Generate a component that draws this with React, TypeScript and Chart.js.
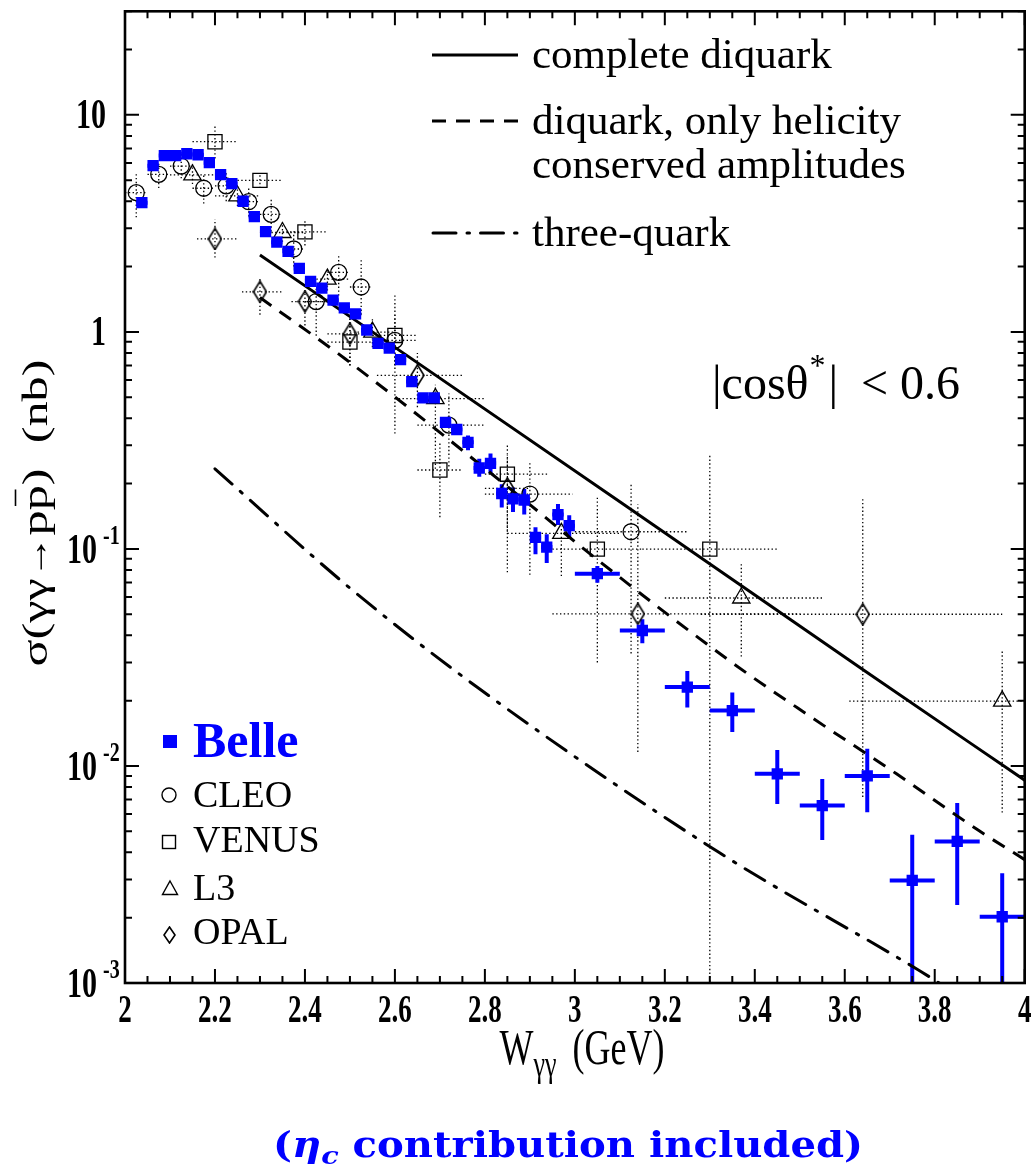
import React, { useEffect, useRef } from 'react';
import { Chart, registerables } from 'chart.js';

Chart.register(...registerables);

const W = 1036;
const H = 1175;
const SERIF = '"Liberation Serif", "Times New Roman", serif';
const CAPFONT = '"DejaVu Serif", serif';
const BLUE = '#0000ff';

// ---------------- axes ----------------
const xMin = 2;
const xMax = 4;
const yMin = 0.001;
const yMax = 30;
const xTickValues = [2, 2.2, 2.4, 2.6, 2.8, 3, 3.2, 3.4, 3.6, 3.8, 4];
const xTickLabels = ['2', '2.2', '2.4', '2.6', '2.8', '3', '3.2', '3.4', '3.6', '3.8', '4'];
const yTickValues = [0.001, 0.01, 0.1, 1, 10];
const yTickBase = ['10', '10', '10', '1', '10'];
const yTickExp = ['-3', '-2', '-1', '', ''];

// ---------------- Belle ----------------
const belleX = [2.0375, 2.0625, 2.0875, 2.1125, 2.1375, 2.1625, 2.1875, 2.2125, 2.2375, 2.2625,
  2.2875, 2.3125, 2.3375, 2.3625, 2.3875, 2.4125, 2.4375, 2.4625, 2.4875, 2.5125,
  2.5375, 2.5625, 2.5875, 2.6125, 2.6375, 2.6625, 2.6875, 2.7125, 2.7375, 2.7625,
  2.7875, 2.8125, 2.8375, 2.8625, 2.8875, 2.9125, 2.9375, 2.9625, 2.9875,
  3.05, 3.15, 3.25, 3.35, 3.45, 3.55, 3.65, 3.75, 3.85, 3.95];
const belleY = [3.94, 5.83, 6.49, 6.49, 6.62, 6.55, 6.02, 5.30, 4.82, 4.0,
  3.40, 2.90, 2.59, 2.35, 1.96, 1.71, 1.59, 1.40, 1.29, 1.21,
  1.02, 0.885, 0.842, 0.745, 0.59, 0.497, 0.497, 0.383, 0.355, 0.31,
  0.236, 0.248, 0.18, 0.17, 0.168, 0.113, 0.102, 0.144, 0.128,
  0.0769, 0.0421, 0.0231, 0.018, 0.0092, 0.00657, 0.009, 0.00297, 0.00449, 0.00202];
const belleXErr = [0.0125, 0.0125, 0.0125, 0.0125, 0.0125, 0.0125, 0.0125, 0.0125, 0.0125, 0.0125,
  0.0125, 0.0125, 0.0125, 0.0125, 0.0125, 0.0125, 0.0125, 0.0125, 0.0125, 0.0125,
  0.0125, 0.0125, 0.0125, 0.0125, 0.0125, 0.0125, 0.0125, 0.0125, 0.0125, 0.0125,
  0.0125, 0.0125, 0.0125, 0.0125, 0.0125, 0.0125, 0.0125, 0.0125, 0.0125,
  0.05, 0.05, 0.05, 0.05, 0.05, 0.05, 0.05, 0.05, 0.05, 0.05];
const belleYLo = [null, null, null, null, null, null, null, null, null, null,
  null, null, null, null, null, null, null, null, null, null,
  null, null, null, null, null, null, null, null, null, 0.285,
  0.215, 0.223, 0.155, 0.148, 0.144, 0.0945, 0.0862, 0.129, 0.111,
  0.0699, 0.0368, 0.0186, 0.01435, 0.00668, 0.00456, 0.00612, 0.0009, 0.00229, 0.0009];
const belleYHi = [null, null, null, null, null, null, null, null, null, null,
  null, null, null, null, null, null, null, null, null, null,
  null, null, null, null, null, null, null, null, null, 0.333,
  0.26, 0.2755, 0.1985, 0.192, 0.189, 0.126, 0.117, 0.161, 0.143,
  0.0834, 0.0474, 0.0274, 0.0218, 0.01185, 0.0087, 0.012, 0.00482, 0.00675, 0.0032];

// ---------------- CLEO ----------------
const cleoX = [2.025, 2.075, 2.125, 2.175, 2.225, 2.275, 2.325, 2.375, 2.425, 2.475, 2.525, 2.6, 2.72, 2.9, 3.125];
const cleoY = [4.38, 5.32, 5.81, 4.59, 4.71, 3.98, 3.48, 2.41, 1.38, 1.88, 1.61, 0.914, 0.372, 0.179, 0.12];
const cleoXLo = [2.0, 2.05, 2.1, 2.15, 2.2, 2.25, 2.3, 2.35, 2.4, 2.45, 2.5, 2.55, 2.65, 2.8, 3.0];
const cleoXHi = [2.05, 2.1, 2.15, 2.2, 2.25, 2.3, 2.35, 2.4, 2.45, 2.5, 2.55, 2.65, 2.8, 2.995, 3.25];
const cleoYLo = [3.37, 4.6, 5.1, 3.9, 4.0, 3.4, 2.9, 2.0, 0.96, 1.47, 1.2, 0.7, 0.24, 0.076, 0.033];
const cleoYHi = [5.32, 6.1, 6.6, 5.3, 5.5, 4.6, 4.1, 2.9, 1.6, 2.28, 2.14, 1.2, 0.52, 0.25, 0.2];

// ---------------- VENUS ----------------
const venusX = [2.2, 2.3, 2.4, 2.5, 2.6, 2.7, 2.85, 3.05, 3.3];
const venusY = [7.52, 4.99, 2.89, 0.898, 0.963, 0.231, 0.221, 0.0998, 0.0998];
const venusXLo = [2.15, 2.25, 2.35, 2.45, 2.55, 2.65, 2.8, 2.95, 3.15];
const venusXHi = [2.25, 2.35, 2.45, 2.55, 2.65, 2.75, 2.94, 3.15, 3.45];
const venusYLo = [6.3, 4.6, 2.5, 0.7, 0.34, 0.14, 0.078, 0.03, 0.0009];
const venusYHi = [9.0, 5.4, 3.3, 1.2, 1.49, 0.31, 0.3, 0.172, 0.27];

// ---------------- L3 ----------------
const l3X = [2.15, 2.25, 2.35, 2.45, 2.55, 2.69, 2.97, 3.37, 3.95];
const l3Y = [5.29, 4.23, 2.87, 1.75, 0.997, 0.493, 0.118, 0.0594, 0.0199];
const l3XLo = [2.1, 2.2, 2.3, 2.4, 2.5, 2.6, 2.85, 3.2, 3.61];
const l3XHi = [2.2, 2.3, 2.4, 2.5, 2.6, 2.8, 3.1, 3.55, 4.05];
const l3YLo = [4.8, 3.8, 2.6, 1.55, 0.85, 0.234, 0.075, 0.0319, 0.0061];
const l3YHi = [5.9, 4.7, 3.2, 1.95, 1.15, 0.57, 0.127, 0.085, 0.0337];

// ---------------- OPAL ----------------
const opalX = [2.2, 2.3, 2.4, 2.5, 2.65, 2.85, 3.14, 3.64];
const opalY = [2.68, 1.53, 1.38, 0.98, 0.631, 0.19, 0.0502, 0.05];
const opalXLo = [2.16, 2.26, 2.37, 2.45, 2.56, 2.8, 2.95, 3.28];
const opalXHi = [2.25, 2.35, 2.45, 2.55, 2.75, 2.9, 3.5, 3.95];
const opalYLo = [2.2, 1.2, 1.07, 0.7, 0.45, 0.12, 0.0116, 0.0072];
const opalYHi = [3.3, 1.77, 1.58, 1.2, 0.8, 0.27, 0.16, 0.17];

// ---------------- theory curves ----------------
const diquarkX = [2.3, 2.64, 3.1, 3.64, 4.0];
const diquarkY = [2.26, 0.745, 0.165, 0.0278, 0.0086];
const helicityX = [2.3, 2.49, 2.9, 3.02, 3.345, 3.527, 3.715, 3.898, 4.0];
const helicityY = [1.44, 0.75, 0.16, 0.1, 0.0304, 0.0167, 0.0092, 0.00504, 0.0037];
const threeQuarkX = [2.2, 2.5, 2.79, 3.32, 3.76, 3.81];
const threeQuarkY = [0.234, 0.066, 0.0225, 0.004, 0.00116, 0.001];

const pts = (xs: number[], ys: number[]) => xs.map((x, i) => ({ x, y: ys[i] }));

function makeDiamond(w: number, h: number, lw: number) {
  const c = document.createElement('canvas');
  c.width = w + 2;
  c.height = h + 2;
  const g = c.getContext('2d')!;
  g.strokeStyle = '#000';
  g.lineWidth = lw;
  g.beginPath();
  g.moveTo(c.width / 2, 1);
  g.lineTo(c.width - 1, c.height / 2);
  g.lineTo(c.width / 2, c.height - 1);
  g.lineTo(1, c.height / 2);
  g.closePath();
  g.stroke();
  return c;
}

type ErrSet = {
  xs: number[]; ys: number[];
  xlo: (number | null)[]; xhi: (number | null)[];
  ylo: (number | null)[]; yhi: (number | null)[];
  color: string; width: number; dash: number[];
};

function txt(ctx: CanvasRenderingContext2D, s: string, x: number, y: number, font: string,
  align: CanvasTextAlign = 'left', baseline: CanvasTextBaseline = 'alphabetic', sy = 1, color = '#000') {
  ctx.save();
  ctx.translate(x, y);
  ctx.scale(1, sy);
  ctx.font = font;
  ctx.fillStyle = color;
  ctx.textAlign = align;
  ctx.textBaseline = baseline;
  ctx.fillText(s, 0, 0);
  ctx.restore();
}

export default function App() {
  const ref = useRef<HTMLCanvasElement>(null);

  useEffect(() => {
    const canvas = ref.current!;
    const diamond = makeDiamond(13, 21, 1.6);
    const diamondLegend = makeDiamond(11, 16, 1.6);

    const dotted = [1.4, 2.4];
    const errSets: ErrSet[] = [
      { xs: cleoX, ys: cleoY, xlo: cleoXLo, xhi: cleoXHi, ylo: cleoYLo, yhi: cleoYHi, color: '#000', width: 1.3, dash: dotted },
      { xs: venusX, ys: venusY, xlo: venusXLo, xhi: venusXHi, ylo: venusYLo, yhi: venusYHi, color: '#000', width: 1.3, dash: dotted },
      { xs: l3X, ys: l3Y, xlo: l3XLo, xhi: l3XHi, ylo: l3YLo, yhi: l3YHi, color: '#000', width: 1.3, dash: dotted },
      { xs: opalX, ys: opalY, xlo: opalXLo, xhi: opalXHi, ylo: opalYLo, yhi: opalYHi, color: '#000', width: 1.3, dash: dotted },
      {
        xs: belleX, ys: belleY,
        xlo: belleX.map((x, i) => x - belleXErr[i]), xhi: belleX.map((x, i) => x + belleXErr[i]),
        ylo: belleYLo, yhi: belleYHi, color: BLUE, width: 4, dash: [],
      },
    ];

    const errPlugin = {
      id: 'errbars',
      beforeDatasetsDraw(chart: any) {
        const { ctx, chartArea: a, scales } = chart;
        const xs = scales.x;
        const ys = scales.y;
        ctx.save();
        ctx.beginPath();
        ctx.rect(a.left, a.top, a.right - a.left, a.bottom - a.top);
        ctx.clip();
        errSets.forEach((e) => {
          ctx.strokeStyle = e.color;
          ctx.lineWidth = e.width;
          ctx.setLineDash(e.dash);
          ctx.lineCap = 'butt';
          e.xs.forEach((xv, i) => {
            const px = xs.getPixelForValue(xv);
            const py = ys.getPixelForValue(e.ys[i]);
            const xl = e.xlo[i], xh = e.xhi[i];
            if (xl != null && xh != null) {
              ctx.beginPath();
              ctx.moveTo(xs.getPixelForValue(xl), py);
              ctx.lineTo(xs.getPixelForValue(xh), py);
              ctx.stroke();
            }
            const yl = e.ylo[i], yh = e.yhi[i];
            if (yl != null && yh != null) {
              ctx.beginPath();
              ctx.moveTo(px, ys.getPixelForValue(yl));
              ctx.lineTo(px, ys.getPixelForValue(yh));
              ctx.stroke();
            }
          });
        });
        ctx.restore();
      },
    };

    const framePlugin = {
      id: 'frame',
      afterDraw(chart: any) {
        const { ctx, chartArea: a, scales } = chart;
        const xs = scales.x;
        const ys = scales.y;
        ctx.save();
        ctx.strokeStyle = '#000';
        ctx.setLineDash([]);
        // ticks
        ctx.lineWidth = 2;
        ctx.lineCap = 'butt';
        for (let k = 0; k <= 40; k++) {
          const v = xMin + k * 0.05;
          const px = xs.getPixelForValue(v);
          const len = k % 4 === 0 ? 14 : 7;
          ctx.beginPath();
          ctx.moveTo(px, a.bottom); ctx.lineTo(px, a.bottom - len);
          ctx.moveTo(px, a.top); ctx.lineTo(px, a.top + len);
          ctx.stroke();
        }
        for (let e = -3; e <= 1; e++) {
          for (let m = 1; m <= 9; m++) {
            const v = m * Math.pow(10, e);
            if (v > yMax * 1.0001) break;
            const py = ys.getPixelForValue(v);
            const len = m === 1 ? 14 : 7;
            ctx.beginPath();
            ctx.moveTo(a.left, py); ctx.lineTo(a.left + len, py);
            ctx.moveTo(a.right, py); ctx.lineTo(a.right - len, py);
            ctx.stroke();
          }
        }
        // frame
        ctx.lineWidth = 2.6;
        ctx.strokeRect(a.left, a.top, a.right - a.left, a.bottom - a.top);

        // x tick labels
        xTickValues.forEach((v, i) => {
          txt(ctx, xTickLabels[i], xs.getPixelForValue(v), 1012, `bold 27px ${SERIF}`, 'center', 'middle', 1.45);
        });
        // y tick labels
        yTickValues.forEach((v, i) => {
          const py = ys.getPixelForValue(v);
          if (yTickExp[i]) {
            txt(ctx, yTickBase[i], 97, py + 3, `bold 30px ${SERIF}`, 'right', 'middle', 1.4);
            txt(ctx, yTickExp[i], 103, py - 12, `bold 20px ${SERIF}`, 'left', 'middle', 1.4);
          } else {
            txt(ctx, yTickBase[i], 106, py + 2, `bold 30px ${SERIF}`, 'right', 'middle', 1.4);
          }
        });

        // y title (rotated)
        {
          const fs = 35;
          ctx.save();
          ctx.translate(47, 513);
          ctx.rotate(-Math.PI / 2);
          ctx.font = `${fs}px ${SERIF}`;
          const pieces = ['σ(γγ', '→', 'p', 'p', ')', '  ', '(nb)'];
          const widths = pieces.map((p) => ctx.measureText(p).width);
          widths[1] = widths[1] * 0.85;
          const total = widths.reduce((s, w) => s + w, 0);
          const sx = 307 / total;
          ctx.scale(sx, 1);
          ctx.fillStyle = '#000';
          ctx.textBaseline = 'alphabetic';
          ctx.textAlign = 'left';
          let cx = -total / 2;
          pieces.forEach((p, i) => {
            if (i === 1) {
              ctx.save();
              ctx.translate(cx, 0);
              ctx.scale(0.85, 1);
              ctx.fillText(p, 0, 0);
              ctx.restore();
            } else {
              ctx.fillText(p, cx, 0);
            }
            if (i === 3) {
              ctx.strokeStyle = '#000';
              ctx.lineWidth = 1.6;
              ctx.beginPath();
              ctx.moveTo(cx + 3, -fs * 0.9);
              ctx.lineTo(cx + widths[i] - 3, -fs * 0.9);
              ctx.stroke();
            }
            cx += widths[i];
          });
          ctx.restore();
        }

        // x title
        {
          const fs = 36;
          const sy = 1.4;
          ctx.font = `${fs}px ${SERIF}`;
          const wW = ctx.measureText('W').width;
          ctx.font = `${26}px ${SERIF}`;
          const wg = ctx.measureText('γγ').width;
          ctx.font = `${fs}px ${SERIF}`;
          const wG = ctx.measureText('(GeV)').width;
          const gap = 16;
          const total = wW + wg + gap + wG;
          const x0 = 582 - total / 2;
          txt(ctx, 'W', x0, 1064, `${fs}px ${SERIF}`, 'left', 'alphabetic', sy);
          txt(ctx, 'γγ', x0 + wW, 1076, `26px ${SERIF}`, 'left', 'alphabetic', sy);
          txt(ctx, '(GeV)', x0 + wW + wg + gap, 1064, `${fs}px ${SERIF}`, 'left', 'alphabetic', sy);
        }

        // top-right legend
        ctx.strokeStyle = '#000';
        ctx.lineWidth = 3;
        ctx.lineCap = 'butt';
        ctx.setLineDash([]);
        ctx.beginPath(); ctx.moveTo(432, 55); ctx.lineTo(518, 55); ctx.stroke();
        ctx.setLineDash([14, 10]);
        ctx.beginPath(); ctx.moveTo(432, 121); ctx.lineTo(518, 121); ctx.stroke();
        ctx.setLineDash([23, 11, 2.5, 11]);
        ctx.lineCap = 'round';
        ctx.beginPath(); ctx.moveTo(433, 233); ctx.lineTo(518, 233); ctx.stroke();
        ctx.setLineDash([]);
        ctx.lineCap = 'butt';
        const lf = `43px ${SERIF}`;
        txt(ctx, 'complete diquark', 532, 68, lf);
        txt(ctx, 'diquark, only helicity', 532, 134, lf);
        txt(ctx, 'conserved amplitudes', 532, 178, lf);
        txt(ctx, 'three-quark', 532, 246, lf);

        // |cos theta*| < 0.6
        {
          const f = `48px ${SERIF}`;
          const fsup = `32px ${SERIF}`;
          ctx.font = f;
          const s1 = '|cosθ';
          const w1 = ctx.measureText(s1).width;
          txt(ctx, s1, 712, 399, f);
          ctx.font = fsup;
          const w2 = ctx.measureText('*').width;
          txt(ctx, '*', 712 + w1 + 1, 376, fsup);
          const x3 = 712 + w1 + w2 + 4;
          txt(ctx, '|', x3, 399, f);
          txt(ctx, '< 0.6', 960, 399, f, 'right');
        }

        // left legend
        ctx.fillStyle = BLUE;
        ctx.fillRect(163, 735, 14, 13);
        txt(ctx, 'Belle', 193, 757, `bold 50px ${SERIF}`, 'left', 'alphabetic', 1, BLUE);
        ctx.strokeStyle = '#000';
        ctx.lineWidth = 1.4;
        ctx.beginPath(); ctx.arc(169, 795, 7, 0, Math.PI * 2); ctx.stroke();
        txt(ctx, 'CLEO', 193, 807, `38px ${SERIF}`);
        ctx.strokeRect(162.5, 835.5, 13, 13);
        txt(ctx, 'VENUS', 193, 852, `38px ${SERIF}`);
        ctx.beginPath(); ctx.moveTo(170, 881); ctx.lineTo(177.5, 894.5); ctx.lineTo(162.5, 894.5); ctx.closePath(); ctx.stroke();
        txt(ctx, 'L3', 193, 900, `38px ${SERIF}`);
        ctx.drawImage(diamondLegend, Math.round(169 - diamondLegend.width / 2), Math.round(935 - diamondLegend.height / 2));
        txt(ctx, 'OPAL', 193, 944, `38px ${SERIF}`);

        // caption
        {
          const fs = 35;
          const fN = `bold ${fs}px ${CAPFONT}`;
          const fI = `italic bold ${fs}px ${CAPFONT}`;
          const fS = `italic bold 25px ${CAPFONT}`;
          ctx.font = fN; const wa = ctx.measureText('(').width;
          ctx.font = fI; const wb = ctx.measureText('η').width;
          ctx.font = fS; const wc = ctx.measureText('c').width;
          ctx.font = fN; const wd = ctx.measureText(' contribution included)').width;
          const total = wa + wb + wc + wd;
          const sx = 590 / total;
          ctx.save();
          ctx.translate(568 - 295, 1157);
          ctx.scale(sx, 1);
          ctx.fillStyle = BLUE;
          ctx.textBaseline = 'alphabetic';
          ctx.font = fN; ctx.fillText('(', 0, 0);
          ctx.font = fI; ctx.fillText('η', wa, 0);
          ctx.font = fS; ctx.fillText('c', wa + wb, 7);
          ctx.font = fN; ctx.fillText(' contribution included)', wa + wb + wc, 0);
          ctx.restore();
        }
        ctx.restore();
      },
    };

    const chart = new Chart(canvas, {
      type: 'scatter',
      data: {
        datasets: [
          {
            label: 'Belle', data: pts(belleX, belleY), pointStyle: 'rect', pointRadius: 8,
            backgroundColor: BLUE, borderColor: BLUE, borderWidth: 0,
          },
          {
            label: 'CLEO', data: pts(cleoX, cleoY), pointStyle: 'circle', pointRadius: 8,
            backgroundColor: 'rgba(0,0,0,0)', borderColor: '#000', borderWidth: 1.3,
          },
          {
            label: 'VENUS', data: pts(venusX, venusY), pointStyle: 'rect', pointRadius: 10,
            backgroundColor: 'rgba(0,0,0,0)', borderColor: '#000', borderWidth: 1.3,
          },
          {
            label: 'L3', data: pts(l3X, l3Y), pointStyle: 'triangle', pointRadius: 10,
            backgroundColor: 'rgba(0,0,0,0)', borderColor: '#000', borderWidth: 1.3,
          },
          {
            label: 'OPAL', data: pts(opalX, opalY), pointStyle: diamond as any, pointRadius: 10,
            backgroundColor: 'rgba(0,0,0,0)', borderColor: '#000', borderWidth: 1.3,
          },
          {
            label: 'complete diquark', data: pts(diquarkX, diquarkY), showLine: true, pointRadius: 0,
            borderColor: '#000', borderWidth: 3, cubicInterpolationMode: 'monotone',
          },
          {
            label: 'diquark, only helicity conserved amplitudes', data: pts(helicityX, helicityY), showLine: true, pointRadius: 0,
            borderColor: '#000', borderWidth: 3, borderDash: [14, 10], cubicInterpolationMode: 'monotone',
          },
          {
            label: 'three-quark', data: pts(threeQuarkX, threeQuarkY), showLine: true, pointRadius: 0,
            borderColor: '#000', borderWidth: 3, borderDash: [23, 11, 2.5, 11], borderCapStyle: 'round',
            cubicInterpolationMode: 'monotone',
          },
        ],
      },
      options: {
        animation: false,
        responsive: false,
        devicePixelRatio: 1,
        layout: { padding: { left: 125, top: 9, right: W - 1029, bottom: H - 983 } },
        scales: {
          x: { type: 'linear', min: xMin, max: xMax, display: false },
          y: { type: 'logarithmic', min: yMin, max: yMax, display: false },
        },
        plugins: { legend: { display: false }, tooltip: { enabled: false } },
        events: [],
      },
      plugins: [errPlugin, framePlugin],
    } as any);
    return () => chart.destroy();
  }, []);

  return (
    <div style={{ position: 'absolute', left: 0, top: 0, width: W, height: H, background: '#fff' }}>
      <canvas ref={ref} width={W} height={H} style={{ width: W, height: H, display: 'block' }} />
    </div>
  );
}
